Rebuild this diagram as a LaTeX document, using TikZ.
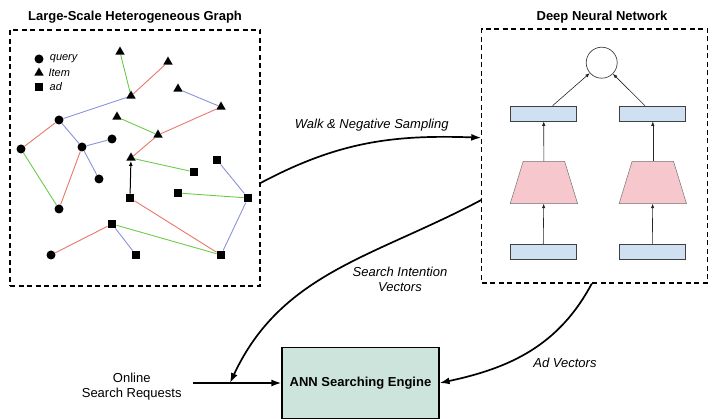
\documentclass[tikz,border=0pt]{standalone}
\usepackage{fontspec}
\setmainfont{Liberation Sans}
\usetikzlibrary{arrows.meta,calc,positioning,shapes.geometric}
\definecolor{edgered}{RGB}{232,118,106}
\definecolor{edgegreen}{RGB}{108,204,74}
\definecolor{edgeblue}{RGB}{138,146,218}
\definecolor{vecblue}{RGB}{206,224,242}
\definecolor{encpink}{RGB}{246,200,206}
\definecolor{annteal}{RGB}{204,228,220}
\tikzset{
  node-q/.style={circle,fill=black,minimum size=9pt,inner sep=0pt},
  node-i/.style={regular polygon,regular polygon sides=3,fill=black,minimum size=11pt,inner sep=0pt},
  node-a/.style={rectangle,fill=black,minimum size=8.5pt,inner sep=0pt},
  edge-r/.style={draw=edgered,line width=0.9pt},
  edge-g/.style={draw=edgegreen,line width=0.9pt},
  edge-b/.style={draw=edgeblue,line width=0.9pt},
  box-frame/.style={draw,dash pattern=on 5pt off 3.5pt,line width=1.1pt,inner sep=0pt},
  lab-head/.style={font=\fontsize{13}{15}\selectfont\bfseries},
  lab-leg/.style={font=\fontsize{11}{13}\selectfont\itshape,inner sep=0pt},
  lab-edge/.style={font=\fontsize{13}{15}\selectfont\itshape,align=center},
  nn-vec/.style={draw=black!75,fill=vecblue,minimum width=66pt,minimum height=15pt,inner sep=0pt,line width=0.7pt},
  nn-enc/.style={minimum width=67pt,minimum height=42pt,inner sep=0pt},
  nn-trap/.style={draw=black!55,fill=encpink,line width=0.5pt},
  nn-out/.style={draw=black!75,circle,minimum size=31pt,inner sep=0pt,line width=0.7pt},
  arr-nn/.style={-{Latex[length=4.5pt,width=3.5pt]},line width=0.6pt,black!85},
  arr-flow/.style={-{Latex[length=10pt,width=7pt]},line width=1.7pt},
}

\begin{document}
\begin{tikzpicture}[x=1pt,y=1pt]
  \useasboundingbox (0,0) rectangle (723,-419);

  % frames and titles
  \node[box-frame,minimum width=250pt,minimum height=256pt] (graph) at (135,-158) {};
  \node[box-frame,minimum width=226pt,minimum height=254pt] (dnn) at (594.8,-156) {};
  \node[lab-head] at (135,-17)   {Large-Scale Heterogeneous Graph};
  \node[lab-head] at (602,-17)   {Deep Neural Network};

  % legend
  \node[node-q] (lq) at (39,-59) {};
  \node[node-i] (li) at (39,-73) {};
  \node[node-a] (la) at (39,-87) {};
  \node[lab-leg,right=6pt of lq] {query};
  \node[lab-leg,right=6pt of li] {Item};
  \node[lab-leg,right=6pt of la] {ad};

  % GRAPH: queries
  \node[node-q] (q1) at (59,-120)  {};
  \node[node-q] (q2) at (112,-139) {};
  \node[node-q] (q3) at (82,-147)  {};
  \node[node-q] (q4) at (21,-149)  {};
  \node[node-q] (q5) at (99,-179)  {};
  \node[node-q] (q6) at (59,-209)  {};
  \node[node-q] (q7) at (51,-255)  {};

  % GRAPH: items
  \node[node-i] (i1) at (120,-52)  {};
  \node[node-i] (i2) at (168,-62)  {};
  \node[node-i] (i3) at (131,-96)  {};
  \node[node-i] (i4) at (178,-89)  {};
  \node[node-i] (i5) at (221,-107) {};
  \node[node-i] (i6) at (117,-117) {};
  \node[node-i] (i7) at (158,-135) {};
  \node[node-i] (i8) at (131,-158) {};

  % GRAPH: ads
  \node[node-a] (a1) at (194,-172) {};
  \node[node-a] (a2) at (217,-160) {};
  \node[node-a] (a3) at (178,-193) {};
  \node[node-a] (a4) at (130,-198) {};
  \node[node-a] (a5) at (248,-198) {};
  \node[node-a] (a6) at (112,-224) {};
  \node[node-a] (a7) at (136,-255) {};
  \node[node-a] (a8) at (221,-255) {};

  % GRAPH: edges
  \draw[edge-g] (i1) -- (i3);
  \draw[edge-r] (i3) -- (i2);
  \draw[edge-b] (i3) -- (q1);
  \draw[edge-b] (i4) -- (i5);
  \draw[edge-r] (i5) -- (i7);
  \draw[edge-g] (i6) -- (i7);
  \draw[edge-r] (q1) -- (q4);
  \draw[edge-b] (q1) -- (q3);
  \draw[edge-b] (q3) -- (q2);
  \draw[edge-g] (q4) -- (q6);
  \draw[edge-r] (q6) -- (q3);
  \draw[edge-b] (q3) -- (q5);
  \draw[edge-r] (i7) -- (i8);
  \draw[edge-g] (i8) -- (a1);
  \draw[edge-r] (a4) -- (a8);
  \draw[edge-b] (a2) -- (a5);
  \draw[edge-g] (a3) -- (a5);
  \draw[edge-b] (a5) -- (a8);
  \draw[edge-g] (a6) -- (a8);
  \draw[edge-b] (a6) -- (a7);
  \draw[edge-r] (a6) -- (q7);
  \draw[-{Latex[length=5pt,width=4pt]},line width=1pt] (a4) -- (i8);

  % NETWORK: two towers
  \node[nn-out] (out)  at (601.7,-62.7) {};
  \node[nn-vec] (tl)   at (543.7,-113.5) {};
  \node[nn-vec] (tr)   at (652.8,-113.5) {};
  \node[nn-enc] (el)   at (543.9,-182.5) {};
  \node[nn-enc] (er)   at (652.8,-182.5) {};
  \node[nn-vec] (bl)   at (543.2,-251.8) {};
  \node[nn-vec] (br)   at (652.3,-251.8) {};
  \foreach \e in {el,er}
    \draw[nn-trap] (\e.south west) -- (\e.south east) -- ([xshift=-13pt]\e.north east)
      -- ([xshift=13pt]\e.north west) -- cycle;
  \draw[arr-nn] (bl) -- (el);
  \draw[arr-nn] (br) -- (er);
  \draw[arr-nn] (el) -- (tl);
  \draw[arr-nn] (er) -- (tr);
  \draw[arr-nn] (tl) -- (out);
  \draw[arr-nn] (tr) -- (out);

  % ONLINE SERVING
  \node[draw,fill=annteal,line width=1.2pt,minimum width=157pt,minimum height=71pt,
        font=\fontsize{13}{15}\selectfont\bfseries] (ann) at (360.5,-383) {ANN Searching Engine};
  \node[font=\fontsize{13}{15}\selectfont,align=center] (req) at (131.7,-387) {Online\\Search Requests};
  \coordinate (req-out) at (192.7,-383);
  \coordinate (req-hit) at (230,-383);
  \draw[arr-flow] (req-out) -- (ann);

  % flows between blocks
  \draw[arr-flow] ([yshift=-25pt]graph.east) to[out=28,in=178] ([yshift=18.3pt]dnn.west);
  \draw[arr-flow] ([yshift=-44pt]dnn.west) to[out=208,in=65] (req-hit);
  \draw[arr-flow] ([xshift=-3pt]dnn.south) to[out=242,in=12] (ann.east);
  \node[lab-edge] at (371.7,-125) {Walk \& Negative Sampling};
  \node[lab-edge] at (400,-279)   {Search Intention\\Vectors};
  \node[lab-edge] at (565,-363)   {Ad Vectors};

\end{tikzpicture}
\end{document}
